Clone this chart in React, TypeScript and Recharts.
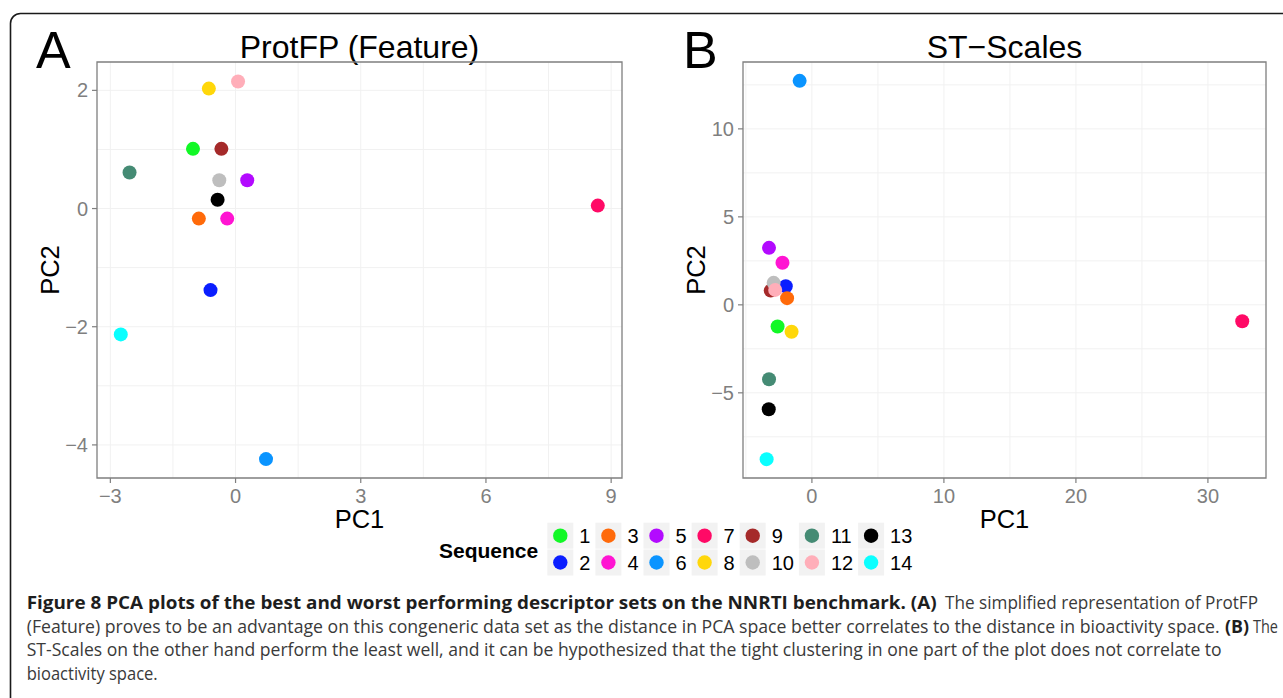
import React from 'react';
import { ScatterChart, Scatter, XAxis, YAxis, CartesianGrid, ReferenceArea } from 'recharts';

// ---- data ----
const sequences = [1, 2, 3, 4, 5, 6, 7, 8, 9, 10, 11, 12, 13, 14];
const seqColors = [
  '#12f826', '#0a1eff', '#ff6a0a', '#ff14d2', '#b30aff', '#0a94ff', '#ff0a66',
  '#ffd70a', '#a52a2a', '#bebebe', '#458b74', '#ffaeb9', '#000000', '#0affff',
];
const protfpPC1 = [-1.02, -0.6, -0.88, -0.2, 0.28, 0.73, 8.68, -0.64, -0.34, -0.39, -2.54, 0.06, -0.43, -2.75];
const protfpPC2 = [1.01, -1.38, -0.17, -0.17, 0.48, -4.24, 0.05, 2.03, 1.01, 0.48, 0.61, 2.15, 0.15, -2.13];
const stPC1 = [-2.6, -1.98, -1.88, -2.23, -3.25, -0.93, 32.6, -1.54, -3.12, -2.9, -3.25, -2.78, -3.27, -3.43];
const stPC2 = [-1.23, 1.06, 0.38, 2.39, 3.24, 12.73, -0.93, -1.53, 0.81, 1.25, -4.23, 0.85, -5.93, -8.77];

const protfpTicksX = [-3, 0, 3, 6, 9];
const protfpTicksY = [-4, -2, 0, 2];
const protfpGridX = [-3, -1.5, 0, 1.5, 3, 4.5, 6, 7.5, 9];
const protfpGridY = [-4, -3, -2, -1, 0, 1, 2];
const protfpDomX: [number, number] = [-3.32, 9.26];
const protfpDomY: [number, number] = [-4.56, 2.48];

const stTicksX = [0, 10, 20, 30];
const stTicksY = [-5, 0, 5, 10];
const stGridX = [-5, 0, 5, 10, 15, 20, 25, 30];
const stGridY = [-7.5, -5, -2.5, 0, 2.5, 5, 7.5, 10, 12.5];
const stDomX: [number, number] = [-5.22, 34.4];
const stDomY: [number, number] = [-9.84, 13.8];

const dataA = sequences.map((s, i) => ({ seq: s, x: protfpPC1[i], y: protfpPC2[i], color: seqColors[i] }));
const dataB = sequences.map((s, i) => ({ seq: s, x: stPC1[i], y: stPC2[i], color: seqColors[i] }));

const FONT = '"Liberation Sans", Arial, Helvetica, sans-serif';
const CAPFONT = '"Open Sans", "Noto Sans", sans-serif';
const GRAY = '#7f7f7f';

const Dot = (props: any) => {
  const { cx, cy, payload } = props;
  if (cx == null || cy == null) return null;
  return <circle cx={cx} cy={cy} r={7} fill={payload.color} />;
};

function Panel(props: {
  data: any[]; width: number; yWidth: number; right: number;
  domX: [number, number]; domY: [number, number];
  ticksX: number[]; ticksY: number[]; gridX: number[]; gridY: number[]; yLabelOffset: number;
}) {
  const { data, width, yWidth, right, domX, domY, ticksX, ticksY, gridX, gridY, yLabelOffset } = props;
  const fmt = (v: number) => (v < 0 ? '\u2212' + Math.abs(v) : String(v));
  return (
    <ScatterChart width={width} height={545} margin={{ top: 62, right, bottom: 17, left: 0 }}>
      <CartesianGrid stroke="#f1f1f1" strokeWidth={1} horizontalValues={gridY} verticalValues={gridX} />
      <XAxis
        type="number" dataKey="x" domain={domX} ticks={ticksX} allowDataOverflow
        height={50} axisLine={false} tickSize={5} tickMargin={6}
        tickLine={{ stroke: GRAY, strokeWidth: 1.2 }}
        tick={{ fill: GRAY, fontSize: 20, fontFamily: FONT }}
        tickFormatter={fmt}
        label={{ value: 'PC1', position: 'insideBottom', offset: 0, fill: '#000', fontSize: 25.5, fontFamily: FONT }}
      />
      <YAxis
        type="number" dataKey="y" domain={domY} ticks={ticksY} allowDataOverflow
        width={yWidth} axisLine={false} tickSize={5} tickMargin={4}
        tickLine={{ stroke: GRAY, strokeWidth: 1.2 }}
        tick={{ fill: GRAY, fontSize: 20, fontFamily: FONT }}
        tickFormatter={fmt}
        label={{ value: 'PC2', angle: -90, position: 'insideLeft', offset: yLabelOffset, fill: '#000', fontSize: 25.5, fontFamily: FONT, style: { textAnchor: 'middle' } }}
      />
      <ReferenceArea x1={domX[0]} x2={domX[1]} y1={domY[0]} y2={domY[1]} fill="none" fillOpacity={0} stroke={GRAY} strokeWidth={1.3} ifOverflow="visible" />
      <Scatter data={data} isAnimationActive={false} shape={Dot} />
    </ScatterChart>
  );
}

const legendStartX = 547.3;
const legendRowY = [522.7, 549.5];
const keySize = 27;

function Legend() {
  const cols: { x: number; items: number[] }[] = [];
  let x = legendStartX;
  for (let c = 0; c < 7; c++) {
    const items = [c * 2, c * 2 + 1];
    cols.push({ x, items });
    const maxChars = Math.max(...items.map((i) => String(sequences[i]).length));
    x += keySize + 5 + maxChars * 11.1 + 5;
  }
  return (
    <g>
      <text x={439} y={557.5} fontFamily={FONT} fontWeight="bold" fontSize={21} fill="#000">Sequence</text>
      {cols.map((col, c) =>
        col.items.map((i, r) => (
          <g key={`${c}-${r}`}>
            <rect x={col.x} y={legendRowY[r]} width={keySize - 1} height={keySize - 1} fill="#f2f2f2" />
            <circle cx={col.x + (keySize - 1) / 2} cy={legendRowY[r] + (keySize - 1) / 2} r={7.2} fill={seqColors[i]} />
            <text x={col.x + keySize + 5} y={legendRowY[r] + keySize / 2 + 7} fontFamily={FONT} fontSize={20} fill="#000">
              {sequences[i]}
            </text>
          </g>
        ))
      )}
    </g>
  );
}

function Caption() {
  const reg = { fontFamily: CAPFONT, fontSize: 17.5, fill: '#3a3a3a', lengthAdjust: 'spacingAndGlyphs' as const };
  const bold = { ...reg, fontWeight: 700, fill: '#1e1e1e' };
  return (
    <g>
      <text x={26.7} y={609} textLength={910} {...bold}>
        Figure 8 PCA plots of the best and worst performing descriptor sets on the NNRTI benchmark. (A)
      </text>
      <text x={945} y={609} textLength={313} {...reg}>The simplified representation of ProtFP</text>
      <text x={26.7} y={632.5} textLength={1193} {...reg}>
        (Feature) proves to be an advantage on this congeneric data set as the distance in PCA space better correlates to the distance in bioactivity space.
      </text>
      <text x={1225} y={632.5} textLength={24} {...bold}>(B)</text>
      <text x={1253} y={632.5} textLength={25} {...reg}>The</text>
      <text x={26.7} y={656} textLength={1195} {...reg}>
        ST-Scales on the other hand perform the least well, and it can be hypothesized that the tight clustering in one part of the plot does not correlate to
      </text>
      <text x={26.7} y={679.5} textLength={131} {...reg}>bioactivity space.</text>
    </g>
  );
}

export default function App() {
  return (
    <div style={{ position: 'absolute', left: 0, top: 0, width: 1283, height: 698, background: '#fff', overflow: 'hidden', fontFamily: FONT }}>
      <svg width={1283} height={698} style={{ position: 'absolute', left: 0, top: 0 }}>
        <rect x={10.5} y={13.5} width={1320} height={720} rx={10} ry={10} fill="none" stroke="#1a1a1a" strokeWidth={1.6} />
        <text x={36} y={68} fontFamily={FONT} fontSize={52} fill="#000">A</text>
        <text x={683} y={68} fontFamily={FONT} fontSize={52} fill="#000">B</text>
        <text x={359.5} y={58} textAnchor="middle" fontFamily={FONT} fontSize={32} fill="#000">ProtFP (Feature)</text>
        <text x={1004.5} y={58} textAnchor="middle" fontFamily={FONT} fontSize={32} fill="#000">ST{'\u2212'}Scales</text>
        <Legend />
        <Caption />
      </svg>
      <div style={{ position: 'absolute', left: 0, top: 0 }}>
        <Panel data={dataA} width={640} yWidth={97} right={18} domX={protfpDomX} domY={protfpDomY}
          ticksX={protfpTicksX} ticksY={protfpTicksY} gridX={protfpGridX} gridY={protfpGridY} yLabelOffset={50} />
      </div>
      <div style={{ position: 'absolute', left: 640, top: 0 }}>
        <Panel data={dataB} width={643} yWidth={103} right={17} domX={stDomX} domY={stDomY}
          ticksX={stTicksX} ticksY={stTicksY} gridX={stGridX} gridY={stGridY} yLabelOffset={56} />
      </div>
    </div>
  );
}
